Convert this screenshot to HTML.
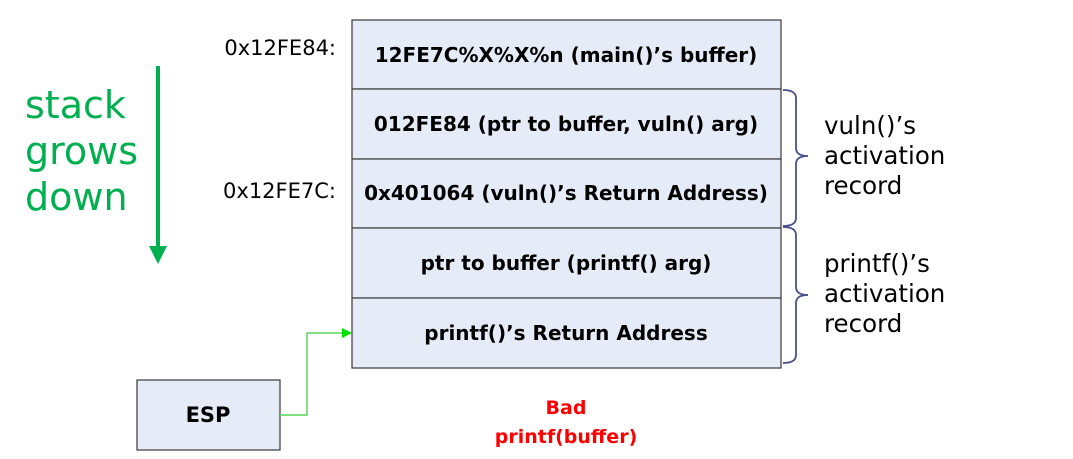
<!DOCTYPE html>
<html><head><style>
body{margin:0;width:1073px;height:454px;background:#fff;overflow:hidden;}
</style></head><body>
<svg width="1073" height="454" xmlns="http://www.w3.org/2000/svg" style="font-family:'DejaVu Sans','Liberation Sans',sans-serif">
<g fill="#e6ecf7" stroke="#3a3a3a" stroke-width="1.2">
<rect x="352" y="20" width="429" height="69"/>
<rect x="352" y="89" width="429" height="70"/>
<rect x="352" y="159" width="429" height="69"/>
<rect x="352" y="228" width="429" height="70"/>
<rect x="352" y="298" width="429" height="70"/>
<rect x="137" y="380" width="143" height="70"/>
</g>
<g font-weight="bold" font-size="20" text-anchor="middle" fill="#000">
<text x="566" y="62">12FE7C%X%X%n (main()’s buffer)</text>
<text x="566" y="131">012FE84 (ptr to buffer, vuln() arg)</text>
<text x="566" y="200">0x401064 (vuln()’s Return Address)</text>
<text x="566" y="270">ptr to buffer (printf() arg)</text>
<text x="566" y="340">printf()’s Return Address</text>
<text x="208" y="422" font-size="21">ESP</text>
</g>
<g font-size="21" fill="#000" text-anchor="end">
<text x="336" y="55">0x12FE84:</text>
<text x="336" y="198">0x12FE7C:</text>
</g>
<g font-weight="bold" font-size="19" fill="#ff0000" text-anchor="middle">
<text x="566" y="414">Bad</text>
<text x="566" y="443">printf(buffer)</text>
</g>
<g font-size="38" fill="#00b050">
<text x="25" y="118">stack</text>
<text x="25" y="164">grows</text>
<text x="25" y="210">down</text>
</g>
<line x1="158" y1="66" x2="158" y2="252" stroke="#00b050" stroke-width="4"/>
<polygon points="149,246 167,246 158,264" fill="#00b050"/>
<polyline points="280,415 307,415 307,333 343,333" fill="none" stroke="#5ad65a" stroke-width="1.5"/>
<polygon points="342,328 352,333 342,338" fill="#00e000"/>
<g fill="none" stroke="#4a4f8a" stroke-width="1.8">
<path d="M783,90 Q796,90 796,98 L796,148 Q796,156 808,156 Q796,156 796,164 L796,218 Q796,226 783,226"/>
<path d="M783,227 Q796,227 796,235 L796,287 Q796,295 808,295 Q796,295 796,303 L796,355 Q796,363 783,363"/>
</g>
<g font-size="24.5" fill="#000">
<text x="824" y="134">vuln()’s</text>
<text x="824" y="164">activation</text>
<text x="824" y="194">record</text>
<text x="824" y="272">printf()’s</text>
<text x="824" y="302">activation</text>
<text x="824" y="332">record</text>
</g>
</svg>
</body></html>
